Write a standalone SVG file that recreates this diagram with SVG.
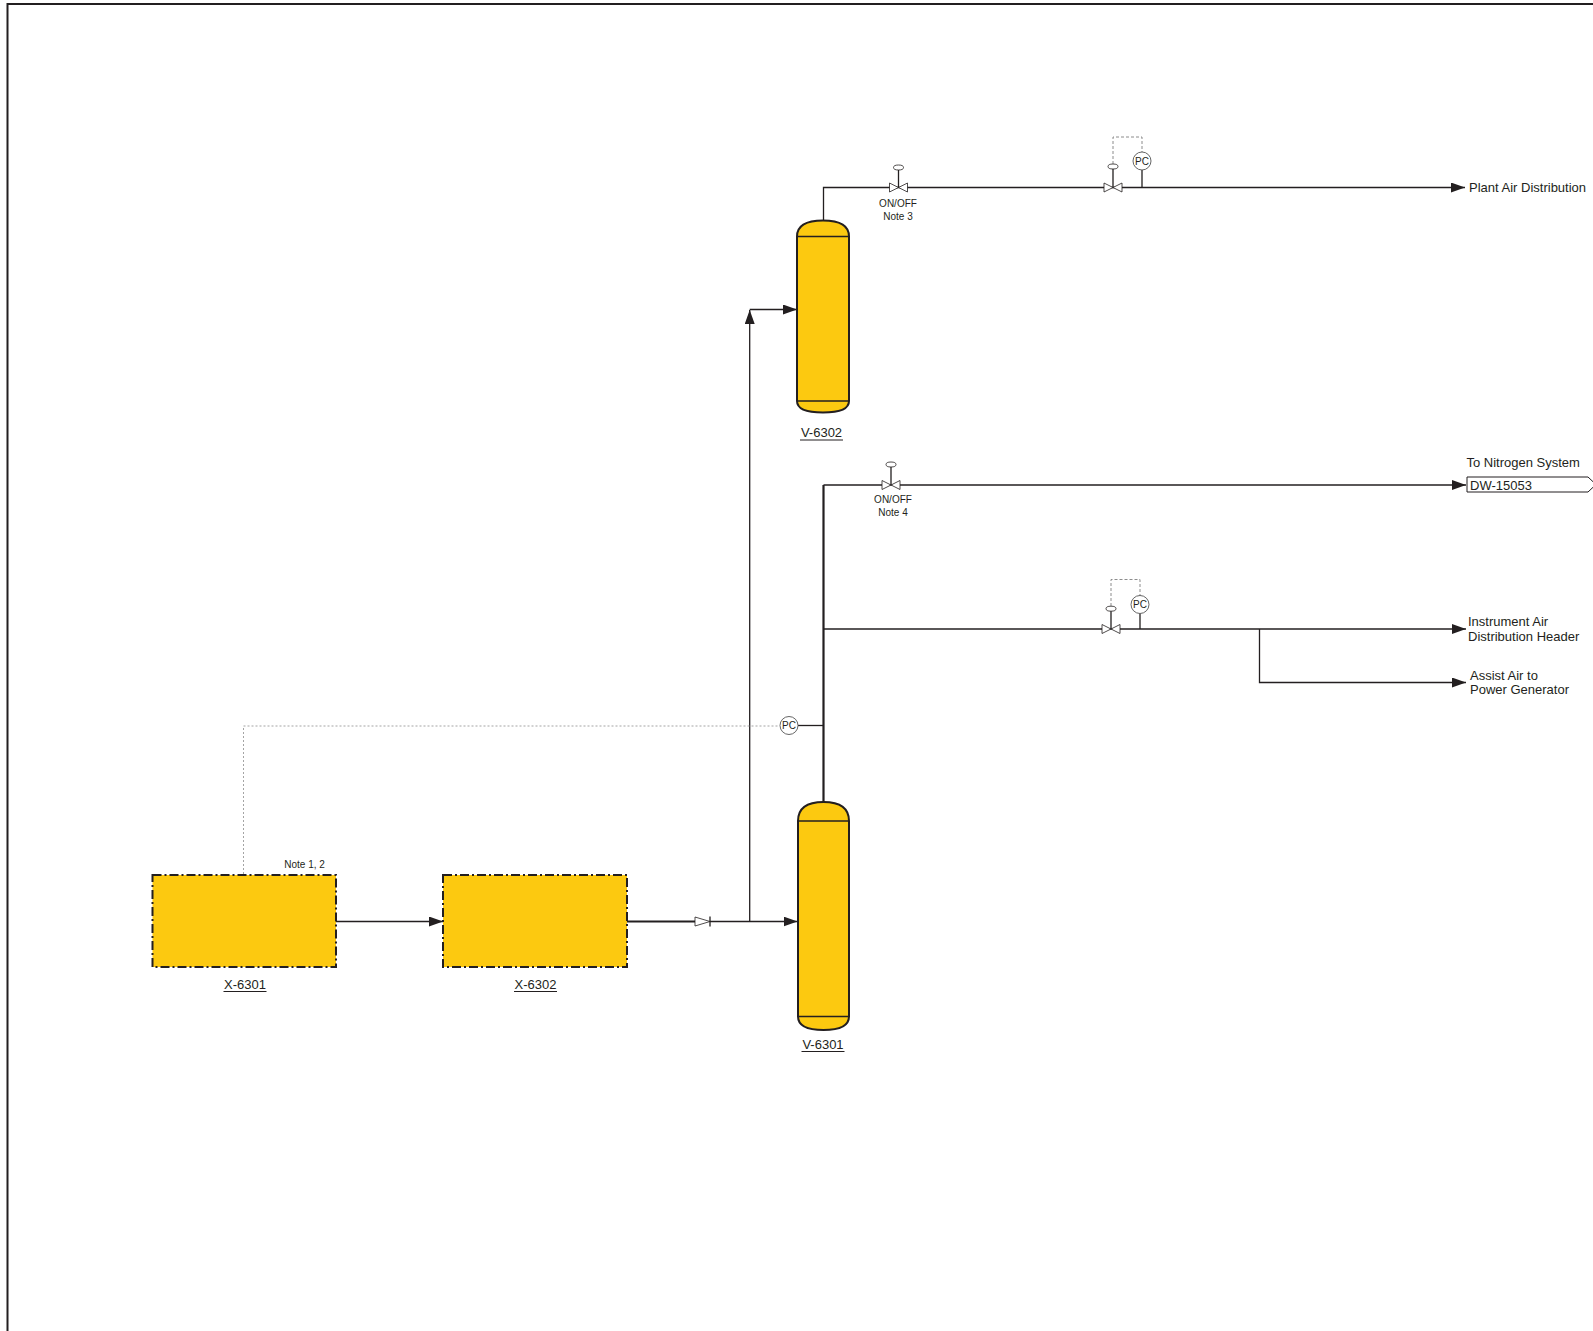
<svg xmlns="http://www.w3.org/2000/svg" width="1593" height="1331" viewBox="0 0 1593 1331">
<style>
text{font-family:"Liberation Sans",Arial,sans-serif;fill:#231f20}
.s{font-size:10px}
.m{font-size:13px}
.c{text-anchor:middle}
.pipe{fill:none;stroke:#231f20;stroke-width:1.3}
.thick{fill:none;stroke:#231f20;stroke-width:2.2}
.vessel{fill:#fcc910;stroke:#231f20;stroke-width:2}
.pkg{fill:#fcc910;stroke:#231f20;stroke-width:2;stroke-dasharray:9 3 2 3}
.valve{fill:#fff;stroke:#231f20;stroke-width:0.8}
.sig{fill:none;stroke:#808080;stroke-width:0.9;stroke-dasharray:3 2}
.sig2{fill:none;stroke:#9a9a9a;stroke-width:0.9;stroke-dasharray:2 2}
.bub{fill:#fff;stroke:#555;stroke-width:0.9}
.ul{stroke:#231f20;stroke-width:1}
</style>
<defs>
<marker id="arr" viewBox="0 0 14 10" refX="14" refY="5" markerWidth="14" markerHeight="10" markerUnits="userSpaceOnUse" orient="auto">
<path d="M0,0 L14,5 L0,10 Z" fill="#231f20"/>
</marker>
</defs>
<path d="M7.5,1331 V4 H1593" fill="none" stroke="#231f20" stroke-width="2"/>

<g id="connectors">
<path class="pipe" d="M823.5,221 V187.5 H1465" marker-end="url(#arr)"/>
<path class="thick" d="M823.5,802 V485"/>
<path class="pipe" d="M823.5,485 H1466" marker-end="url(#arr)"/>
<path class="pipe" d="M823.5,629 H1466" marker-end="url(#arr)"/>
<path class="pipe" d="M1259.5,629 V682.5 H1466" marker-end="url(#arr)"/>
<path class="pipe" d="M798,725.5 H823.5"/>
<path class="pipe" d="M336,921.5 H443" marker-end="url(#arr)"/>
<path class="thick" d="M627,921.5 H695"/>
<path class="pipe" d="M710,921.5 H797.5" marker-end="url(#arr)"/>
<path class="pipe" d="M749.7,921.5 V310" marker-end="url(#arr)"/>
<path class="pipe" d="M749.7,309.5 H797" marker-end="url(#arr)"/>
<path class="sig2" d="M243.5,874 V726 H779"/>
<path class="sig" d="M1113,164 V137 H1142 V152"/>
<path class="sig" d="M1111,606 V579.5 H1140 V595.5"/>
<path class="pipe" d="M1142,170 V187.5"/>
<path class="pipe" d="M1140,613.5 V629"/>
</g>

<g id="valve-onoff-3">
<path class="pipe" d="M898.5,187.5 V170"/>
<ellipse cx="898.5" cy="167.5" rx="5" ry="2.5" class="valve"/>
<path class="valve" d="M889.5,183 L907.5,192 V183 L889.5,192 Z"/>
<text class="s c" x="898" y="206.5">ON/OFF</text>
<text class="s c" x="898" y="219.5">Note 3</text>
</g>

<g id="valve-pcv-plant">
<path class="pipe" d="M1113,187.5 V169"/>
<ellipse cx="1113" cy="166.5" rx="5" ry="2.5" class="valve"/>
<path class="valve" d="M1104,183 L1122,192 V183 L1104,192 Z"/>
</g>
<g id="pc-plant">
<circle cx="1142" cy="161" r="9" class="bub"/>
<text class="s c" x="1142" y="164.5">PC</text>
</g>

<g id="valve-onoff-4">
<path class="pipe" d="M891,485 V467"/>
<ellipse cx="891" cy="464.5" rx="5" ry="2.5" class="valve"/>
<path class="valve" d="M882,480.5 L900,489.5 V480.5 L882,489.5 Z"/>
<text class="s c" x="893" y="503">ON/OFF</text>
<text class="s c" x="893" y="516">Note 4</text>
</g>

<g id="valve-pcv-instr">
<path class="pipe" d="M1111,629 V611"/>
<ellipse cx="1111" cy="608.7" rx="5" ry="2.5" class="valve"/>
<path class="valve" d="M1102,624.5 L1120,633.5 V624.5 L1102,633.5 Z"/>
</g>
<g id="pc-instr">
<circle cx="1140" cy="604.5" r="9" class="bub"/>
<text class="s c" x="1140" y="608">PC</text>
</g>

<g id="pc-main">
<circle cx="789" cy="725.5" r="9" class="bub"/>
<text class="s c" x="789" y="729">PC</text>
</g>

<g id="check-valve">
<path class="valve" d="M695,917 L710,921.5 L695,926 Z"/>
<path class="pipe" d="M710,916.5 V926.5"/>
</g>

<g id="V-6302">
<path class="vessel" d="M797,236.5 Q797,220.5 823,220.5 Q849,220.5 849,236.5 V401 Q849,412.5 823,412.5 Q797,412.5 797,401 Z"/>
<path class="pipe" d="M797,236.5 H849 M797,401 H849" stroke-width="2"/>
<text class="m c" x="821.5" y="437">V-6302</text>
<line class="ul" x1="800" y1="440" x2="843" y2="440"/>
</g>

<g id="V-6301">
<path class="vessel" d="M798,821 Q798,802 823.5,802 Q849,802 849,821 V1016.5 Q849,1030 823.5,1030 Q798,1030 798,1016.5 Z"/>
<path class="pipe" d="M798,821 H849 M798,1016.5 H849" stroke-width="2"/>
<text class="m c" x="823" y="1049">V-6301</text>
<line class="ul" x1="801.5" y1="1051.5" x2="844.5" y2="1051.5"/>
</g>

<g id="X-6301">
<rect class="pkg" x="152.5" y="875" width="183.5" height="92"/>
<text class="s" x="284.3" y="867.5">Note 1, 2</text>
<text class="m c" x="245" y="989">X-6301</text>
<line class="ul" x1="223.5" y1="991.5" x2="266.5" y2="991.5"/>
</g>

<g id="X-6302">
<rect class="pkg" x="443" y="875" width="184" height="92"/>
<text class="m c" x="535.5" y="989">X-6302</text>
<line class="ul" x1="514" y1="991.5" x2="557" y2="991.5"/>
</g>

<g id="plant-air">
<text class="m" x="1469" y="192">Plant Air Distribution</text>
</g>

<g id="nitrogen">
<text class="m" x="1466.5" y="467">To Nitrogen System</text>
<path d="M1467,477 H1588 L1596,484.5 L1588,492 H1467 Z" fill="#fff" stroke="#231f20" stroke-width="1"/>
<text class="m" x="1470" y="489.5">DW-15053</text>
</g>

<g id="instrument-air">
<text class="m" x="1468" y="626">Instrument Air</text>
<text class="m" x="1468" y="641">Distribution Header</text>
</g>

<g id="assist-air">
<text class="m" x="1470" y="679.5">Assist Air to</text>
<text class="m" x="1470" y="694">Power Generator</text>
</g>
</svg>
